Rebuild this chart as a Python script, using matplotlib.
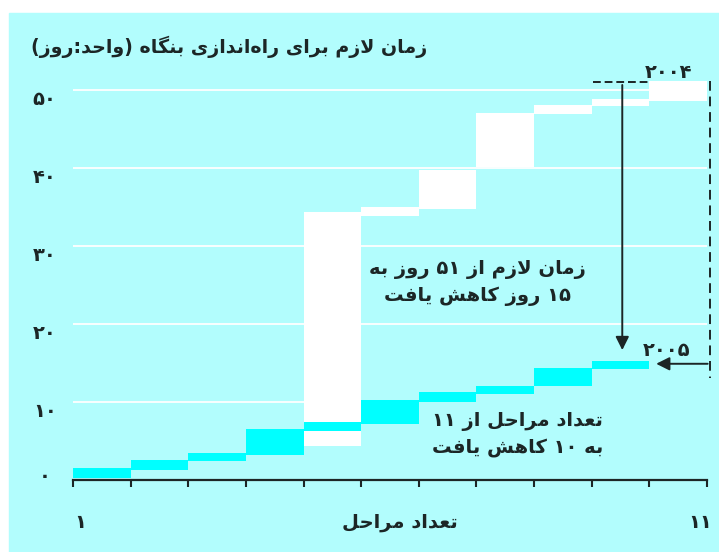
import re
import matplotlib
matplotlib.use('Agg')
import matplotlib.pyplot as plt
from matplotlib.patches import Rectangle

# --- data (days, cumulative) ---
stages = list(range(1, 12))
low_2004 = [0.3, 1.3, 2.4, 3.2, 4.3, 33.8, 34.8, 40.1, 46.9, 47.9, 48.6]
high_2004 = [1.0, 2.0, 3.0, 4.3, 34.3, 35.0, 39.8, 47.0, 48.1, 48.8, 51.1]

stages_2005 = list(range(1, 11))
low_2005 = [0.3, 1.3, 2.4, 3.2, 6.3, 7.2, 10.0, 11.0, 12.1, 14.2]
high_2005 = [1.5, 2.6, 3.4, 6.5, 7.5, 10.3, 11.3, 12.1, 14.4, 15.3]

yticks = [0, 10, 20, 30, 40, 50]
ytick_labels = ['۰', '۱۰', '۲۰', '۳۰', '۴۰', '۵۰']

title = 'زمان لازم برای راه\u200cاندازی بنگاه (واحد:روز)'
xlabel = 'تعداد مراحل'
note_days = 'زمان لازم از ۵۱ روز به\n۱۵ روز کاهش یافت'
note_steps = 'تعداد مراحل از ۱۱\nبه ۱۰ کاهش یافت'

BG = '#b2fdfd'
CYAN = '#00ffff'
INK = '#1c2626'

# arabic presentation forms: isolated, final, initial, medial
FORMS = {
    'ا': ('\ufe8d', '\ufe8e', None, None),
    'ب': ('\ufe8f', '\ufe90', '\ufe91', '\ufe92'),
    'ت': ('\ufe95', '\ufe96', '\ufe97', '\ufe98'),
    'ح': ('\ufea1', '\ufea2', '\ufea3', '\ufea4'),
    'د': ('\ufea9', '\ufeaa', None, None),
    'ر': ('\ufead', '\ufeae', None, None),
    'ز': ('\ufeaf', '\ufeb0', None, None),
    'ش': ('\ufeb5', '\ufeb6', '\ufeb7', '\ufeb8'),
    'ع': ('\ufec9', '\ufeca', '\ufecb', '\ufecc'),
    'ف': ('\ufed1', '\ufed2', '\ufed3', '\ufed4'),
    'ل': ('\ufedd', '\ufede', '\ufedf', '\ufee0'),
    'م': ('\ufee1', '\ufee2', '\ufee3', '\ufee4'),
    'ن': ('\ufee5', '\ufee6', '\ufee7', '\ufee8'),
    'ه': ('\ufee9', '\ufeea', '\ufeeb', '\ufeec'),
    'و': ('\ufeed', '\ufeee', None, None),
    'ی': ('\ufbfc', '\ufbfd', '\ufbfe', '\ufbff'),
    'ک': ('\ufb8e', '\ufb8f', '\ufb90', '\ufb91'),
    'گ': ('\ufb92', '\ufb93', '\ufb94', '\ufb95'),
}


def shape_line(s):
    res = []
    i = 0
    n = len(s)
    while i < n:
        c = s[i]
        if c not in FORMS:
            res.append(c)
            i += 1
            continue
        prev = s[i - 1] if i > 0 else None
        join_prev = prev in FORMS and FORMS[prev][2] is not None
        if c == 'ل' and i + 1 < n and s[i + 1] == 'ا':
            res.append('\ufefc' if join_prev else '\ufefb')
            i += 2
            continue
        nxt = s[i + 1] if i + 1 < n else None
        join_next = FORMS[c][2] is not None and nxt in FORMS
        iso, fin, ini, med = FORMS[c]
        if join_prev and join_next:
            res.append(med)
        elif join_prev:
            res.append(fin)
        elif join_next:
            res.append(ini)
        else:
            res.append(iso)
        i += 1
    s = ''.join(res).replace('\u200c', '')
    runs = re.findall(r'[0-9\u06f0-\u06f9]+|[^0-9\u06f0-\u06f9]', s)
    mirror = {'(': ')', ')': '('}
    return ''.join(mirror.get(r, r) for r in runs[::-1])


def fa(s):
    return '\n'.join(shape_line(line) for line in s.split('\n'))


plt.rcParams['font.family'] = ['DejaVu Sans']

fig = plt.figure(figsize=(7.19, 5.52), dpi=100)
fig.patches.append(Rectangle((9 / 719, 0), 1, (552 - 13) / 552,
                             transform=fig.transFigure, color=BG, zorder=-5))

ax = fig.add_axes([73 / 719, 72 / 552, 634 / 719, 429 / 552])
ax.set_xlim(0, 11)
ax.set_ylim(0, 55)
ax.patch.set_visible(False)

# grid
for v in yticks[1:]:
    if v == 10:
        ax.hlines(v, 0, 4, color='white', lw=1.3, zorder=1)
    else:
        ax.axhline(v, color='white', lw=1.3, zorder=1)

# boxes
x04 = [s - 1 for s in stages]
ax.bar(x04, [h - l for l, h in zip(low_2004, high_2004)], bottom=low_2004,
       width=1, align='edge', color='white', lw=0, zorder=2)
x05 = [s - 1 for s in stages_2005]
ax.bar(x05, [h - l for l, h in zip(low_2005, high_2005)], bottom=low_2005,
       width=1, align='edge', color=CYAN, lw=0, zorder=3)

# axes styling
for sp in ['top', 'right', 'left']:
    ax.spines[sp].set_visible(False)
ax.spines['bottom'].set_linewidth(1.6)
ax.spines['bottom'].set_color(INK)
ax.spines['bottom'].set_zorder(5)
ax.set_xticks(range(0, 12))
ax.set_xticklabels([])
ax.tick_params(axis='x', direction='out', length=5, width=1.5, color=INK)
ax.set_yticks([])

for v, lab in zip(yticks, ytick_labels):
    yy = 0.4 if v == 0 else v - 1.2
    ax.text(-0.49, yy, lab, ha='center', va='center', fontsize=14,
            fontweight='bold', color=INK, clip_on=False)

ax.text(0.12, -5.4, '۱', ha='center', va='center', fontsize=14,
        fontweight='bold', color=INK, clip_on=False)
ax.text(10.89, -5.4, '۱۱', ha='center', va='center', fontsize=14,
        fontweight='bold', color=INK, clip_on=False)
ax.text(5.68, -5.4, fa(xlabel), ha='center', va='center', fontsize=14,
        fontweight='bold', color=INK, clip_on=False)

# title
fig.text(427 / 719, 1 - 47 / 552, fa(title), ha='right', va='center',
         fontsize=13.7, fontweight='bold', color=INK)

# annotations
ax.plot([9.03, 10.0], [51.0, 51.0], color=INK, lw=1.4, ls=(0, (4, 2)),
        zorder=4)
ax.plot([11.06, 11.06], [51.2, 13.1], color=INK, lw=1.4, ls=(0, (5, 3)),
        zorder=4, clip_on=False)
ax.annotate('', xy=(9.53, 16.3), xytext=(9.53, 51.0),
            arrowprops=dict(arrowstyle='-|>', color=INK, lw=1.4,
                            mutation_scale=20), zorder=4)
ax.annotate('', xy=(10.07, 14.9), xytext=(11.06, 14.9),
            arrowprops=dict(arrowstyle='-|>', color=INK, lw=1.4,
                            mutation_scale=20), zorder=4)

ax.text(10.34, 52.3, '۲۰۰۴', ha='center', va='center', fontsize=14,
        fontweight='bold', color=INK, clip_on=False)
ax.text(10.3, 16.6, '۲۰۰۵', ha='center', va='center', fontsize=14,
        fontweight='bold', color=INK, clip_on=False)

ax.text(7.01, 25.3, fa(note_days), ha='center', va='center', fontsize=14,
        fontweight='bold', color=INK, linespacing=1.45)
ax.text(7.71, 5.8, fa(note_steps), ha='center', va='center', fontsize=14,
        fontweight='bold', color=INK, linespacing=1.45)

fig.savefig('out.png', dpi=100)
